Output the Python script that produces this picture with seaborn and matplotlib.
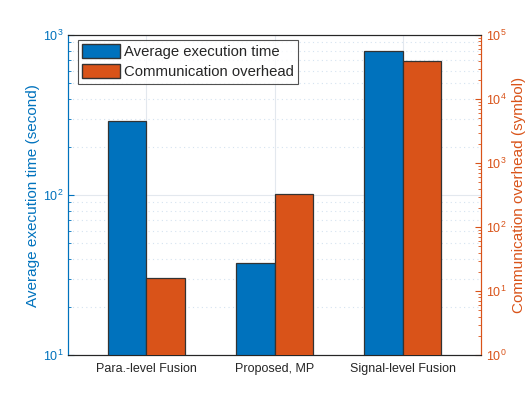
import pandas as pd
import matplotlib.pyplot as plt
import seaborn as sns
from matplotlib.patches import Patch

# Data
methods = ["Para.-level Fusion", "Proposed, MP", "Signal-level Fusion"]
exec_time = [290, 37.6, 800]          # seconds (left axis)
comm_overhead = [15.8, 330, 39000]    # symbols (right axis)
series = ["Average execution time", "Communication overhead"]

blue = "#0072BD"
orange = "#D95319"

df_time = pd.DataFrame({"method": methods, "value": exec_time, "series": series[0]})
df_comm = pd.DataFrame({"method": methods, "value": comm_overhead, "series": series[1]})

sns.set_style("white")
plt.rcParams["font.family"] = ["Liberation Sans", "DejaVu Sans"]
plt.rcParams["mathtext.fontset"] = "custom"
plt.rcParams["mathtext.rm"] = "Liberation Sans"

fig = plt.figure(figsize=(5.32, 3.99), dpi=100)
ax1 = fig.add_axes([0.128, 0.110, 0.776, 0.802])
ax2 = ax1.twinx()

ax1.set_yscale("log")
ax2.set_yscale("log")

pal = {series[0]: blue, series[1]: orange}
sns.barplot(data=df_time, x="method", y="value", hue="series", hue_order=series,
            palette=pal, width=0.6, dodge=True, edgecolor="#333333", linewidth=0.9,
            saturation=1, ax=ax1, legend=False, zorder=3)
sns.barplot(data=df_comm, x="method", y="value", hue="series", hue_order=series,
            palette=pal, width=0.6, dodge=True, edgecolor="#333333", linewidth=0.9,
            saturation=1, ax=ax2, legend=False, zorder=3)

ax1.set_ylim(10, 1000)
ax2.set_ylim(1, 1e5)
ax1.set_xlim(-0.61, 2.61)

# grid like MATLAB, kept under both sets of bars
ax1.set_axisbelow(True)
ax1.grid(True, which="major", axis="both", color="#e3e8ee", linewidth=0.8)
ax1.grid(True, which="minor", axis="y", color="#d5e3f0", linestyle=(0, (1, 3)), linewidth=0.8)
ax2.grid(False)

ax1.set_xlabel("")
ax2.set_xlabel("")
ax1.set_ylabel("Average execution time (second)", color=blue, fontsize=11, labelpad=2)
ax2.set_ylabel("Communication overhead (symbol)", color=orange, fontsize=11)

ax1.tick_params(axis="x", colors="#262626", labelsize=9, direction="in", length=0, pad=6)
ax1.tick_params(axis="y", which="both", colors=blue, labelsize=9, direction="in")
ax2.tick_params(axis="y", which="both", colors=orange, labelsize=9, direction="in")
ax1.tick_params(axis="y", which="major", length=4)
ax1.tick_params(axis="y", which="minor", length=2)
ax2.tick_params(axis="y", which="major", length=4)
ax2.tick_params(axis="y", which="minor", length=2)

for ax in (ax1, ax2):
    ax.spines["left"].set_color(blue)
    ax.spines["right"].set_color(orange)
    ax.spines["top"].set_color("#262626")
    ax.spines["bottom"].set_color("#262626")
    for s in ax.spines.values():
        s.set_linewidth(0.8)

handles = [Patch(facecolor=blue, edgecolor="#333333", label=series[0]),
           Patch(facecolor=orange, edgecolor="#333333", label=series[1])]
leg = ax2.legend(handles=handles, loc="upper left", fontsize=10.7,
                 frameon=True, fancybox=False, edgecolor="#262626",
                 handlelength=2.5, handleheight=1.0, borderpad=0.3,
                 labelspacing=0.35, handletextpad=0.3, borderaxespad=0,
                 bbox_to_anchor=(0.024, 0.985))
leg.get_frame().set_linewidth(0.8)

plt.savefig("out.png", dpi=100)
